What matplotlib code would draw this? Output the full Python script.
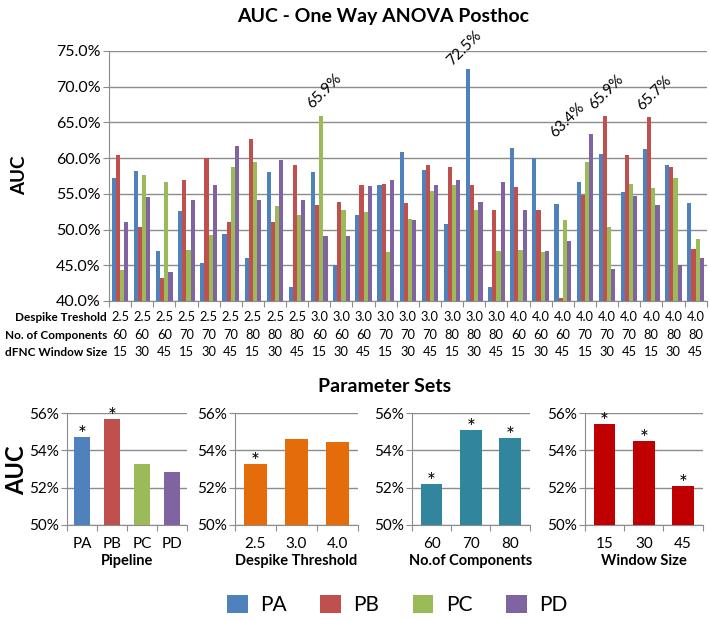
import matplotlib
matplotlib.use("Agg")
import matplotlib.pyplot as plt
from matplotlib.patches import Patch
from matplotlib.ticker import FuncFormatter
import matplotlib.transforms as mtrans
import numpy as np

plt.rcParams['font.family'] = ['Lato', 'DejaVu Sans']

# main chart: AUC per parameter set and pipeline (%)
despike_lbl = ["2.5"] * 9 + ["3.0"] * 9 + ["4.0"] * 9
comps_lbl = (["60"] * 3 + ["70"] * 3 + ["80"] * 3) * 3
window_lbl = ["15", "30", "45"] * 9

pa = [57.2, 58.2, 47.0, 52.6, 45.3, 49.4, 46.0, 58.1, 42.0,
      58.1, 45.0, 52.0, 56.2, 60.8, 58.3, 50.8, 72.5, 42.0,
      61.4, 60.0, 53.6, 56.6, 60.6, 55.3, 61.3, 59.1, 53.7]
pb = [60.5, 50.4, 43.2, 56.9, 60.0, 51.0, 62.7, 51.0, 59.1,
      53.4, 53.8, 56.3, 56.4, 53.7, 59.0, 58.8, 56.2, 52.7,
      55.9, 52.7, 40.4, 54.8, 65.9, 60.5, 65.7, 58.8, 47.3]
pc = [44.4, 57.7, 56.6, 47.2, 49.2, 58.7, 59.5, 53.3, 52.0,
      65.9, 52.8, 52.5, 46.9, 51.5, 55.4, 56.2, 52.7, 47.0,
      47.1, 46.8, 51.3, 59.5, 50.3, 56.4, 55.8, 57.2, 48.7]
pd_ = [51.1, 54.6, 44.0, 54.2, 56.2, 61.7, 54.2, 59.7, 54.1,
       49.1, 49.1, 56.1, 56.9, 51.3, 56.3, 57.0, 53.8, 56.6,
       52.7, 47.0, 48.4, 63.4, 44.5, 54.7, 53.5, 45.1, 46.0]

# highlighted values: (group index, series index)
highlights = [(9, 2), (16, 0), (21, 3), (22, 1), (24, 1)]

# parameter-set means (%)
pipe_cat = ["PA", "PB", "PC", "PD"]
pipe_val = [54.75, 55.7, 53.3, 52.85]
pipe_sig = [True, True, False, False]
desp_cat = ["2.5", "3.0", "4.0"]
desp_val = [53.25, 54.6, 54.45]
desp_sig = [True, False, False]
comp_cat = ["60", "70", "80"]
comp_val = [52.2, 55.1, 54.65]
comp_sig = [True, True, True]
win_cat = ["15", "30", "45"]
win_val = [55.4, 54.5, 52.1]
win_sig = [True, True, True]

colors = ["#4F81BD", "#C0504D", "#9BBB59", "#8064A2"]
names = ["PA", "PB", "PC", "PD"]
grid_c = "#8C8C8C"

fig = plt.figure(figsize=(7.09, 6.21), dpi=100)

# ---- main chart
ax = fig.add_axes([0.1537, 0.5153, 0.843, 0.4026])
series = [pa, pb, pc, pd_]
x = np.arange(len(pa))
w = 0.1875
for k, vals in enumerate(series):
    ax.bar(x + (k - 1.5) * w, np.array(vals) - 40, bottom=40, width=w,
           color=colors[k], zorder=3)
ax.set_xlim(-0.5, len(pa) - 0.5)
ax.set_ylim(40, 75)
ax.set_yticks(np.arange(40, 76, 5))
ax.yaxis.set_major_formatter(FuncFormatter(lambda v, p: "%.1f%%" % v))
ax.set_xticks(np.arange(-0.5, len(pa), 1.0))
ax.set_xticklabels([])
ax.grid(axis="y", color=grid_c, linewidth=1.0, zorder=0)
for s in ["top", "right"]:
    ax.spines[s].set_visible(False)
for s in ["left", "bottom"]:
    ax.spines[s].set_color(grid_c)
ax.tick_params(axis="both", color=grid_c, length=4, labelsize=11.5)
ax.tick_params(axis="y", pad=2)

offs = [(-7, 5), (-14, 1), (-34, -6), (-9, 4), (-5, 4)]
for (g, k), (dx, dy) in zip(highlights, offs):
    v = series[k][g]
    ax.annotate("%.1f%%" % v, (g + (k - 1.5) * w, v), xytext=(dx, dy),
                textcoords="offset pixels", rotation=45, rotation_mode="anchor",
                ha="left", va="bottom", fontsize=11)

# table under the main chart
tr = mtrans.blended_transform_factory(ax.transData, ax.transAxes)
rows = [("Despike Treshold", despike_lbl, -0.066),
        ("No. of Components", comps_lbl, -0.137),
        ("dFNC Window Size", window_lbl, -0.205)]
for lbl, vals, yy in rows:
    ax.text(-0.003, yy, lbl, transform=ax.transAxes, ha="right", va="center",
            fontsize=8.5, fontweight="bold")
    for i, v in enumerate(vals):
        ax.text(i, yy, v, transform=tr, ha="center", va="center", fontsize=9.3)

fig.text(0.54, 0.974, "AUC - One Way ANOVA Posthoc", ha="center", va="center",
         fontsize=14, fontweight="bold")
fig.text(0.028, 0.718, "AUC", rotation=90, ha="center", va="center",
         fontsize=13.5, fontweight="bold")
fig.text(0.543, 0.378, "Parameter Sets", ha="center", va="center",
         fontsize=14, fontweight="bold")
fig.text(0.024, 0.243, "AUC", rotation=90, ha="center", va="center",
         fontsize=17, fontweight="bold")

# ---- small panels
panels = [
    ([0.0945, 0.1546, 0.169, 0.180], pipe_cat, pipe_val, pipe_sig, colors, "Pipeline"),
    ([0.3314, 0.1546, 0.1735, 0.180], desp_cat, desp_val, desp_sig, ["#E46C0A"] * 3, "Despike Threshold"),
    ([0.581, 0.1546, 0.166, 0.180], comp_cat, comp_val, comp_sig, ["#31859C"] * 3, "No.of Components"),
    ([0.825, 0.1546, 0.166, 0.180], win_cat, win_val, win_sig, ["#C00000"] * 3, "Window Size"),
]
for rect, cats, vals, sig, cols, xl in panels:
    a = fig.add_axes(rect)
    xp = np.arange(len(cats))
    a.bar(xp, np.array(vals) - 50, bottom=50, width=0.55, color=cols, zorder=3)
    for xi, v, s in zip(xp, vals, sig):
        if s:
            a.annotate("*", (xi, v), xytext=(0, -4), textcoords="offset pixels",
                       ha="center", va="baseline", fontsize=15)
    a.set_xlim(-0.5, len(cats) - 0.5)
    a.set_ylim(50, 56)
    a.set_yticks([50, 52, 54, 56])
    a.yaxis.set_major_formatter(FuncFormatter(lambda v, p: "%d%%" % v))
    a.set_xticks(np.arange(-0.5, len(cats), 1.0))
    a.set_xticklabels([])
    a.set_xticks(xp, minor=True)
    a.set_xticklabels(cats, minor=True)
    a.tick_params(axis="x", which="minor", length=0, pad=9, labelsize=11)
    a.tick_params(axis="both", which="major", color=grid_c, length=4, labelsize=11)
    a.tick_params(axis="y", pad=2)
    a.grid(axis="y", color=grid_c, linewidth=1.0, zorder=0)
    for s in ["top", "right"]:
        a.spines[s].set_visible(False)
    for s in ["left", "bottom"]:
        a.spines[s].set_color(grid_c)
    a.set_xlabel(xl, fontsize=10.5, fontweight="bold", labelpad=2)

handles = [Patch(facecolor=c) for c in colors]
fig.legend(handles, names, loc="center", bbox_to_anchor=(0.56, 0.026), ncol=4,
           frameon=False, fontsize=15, handlelength=1.0, handleheight=1.0,
           handletextpad=0.6, columnspacing=1.6)

fig.savefig("out.png", dpi=100)
